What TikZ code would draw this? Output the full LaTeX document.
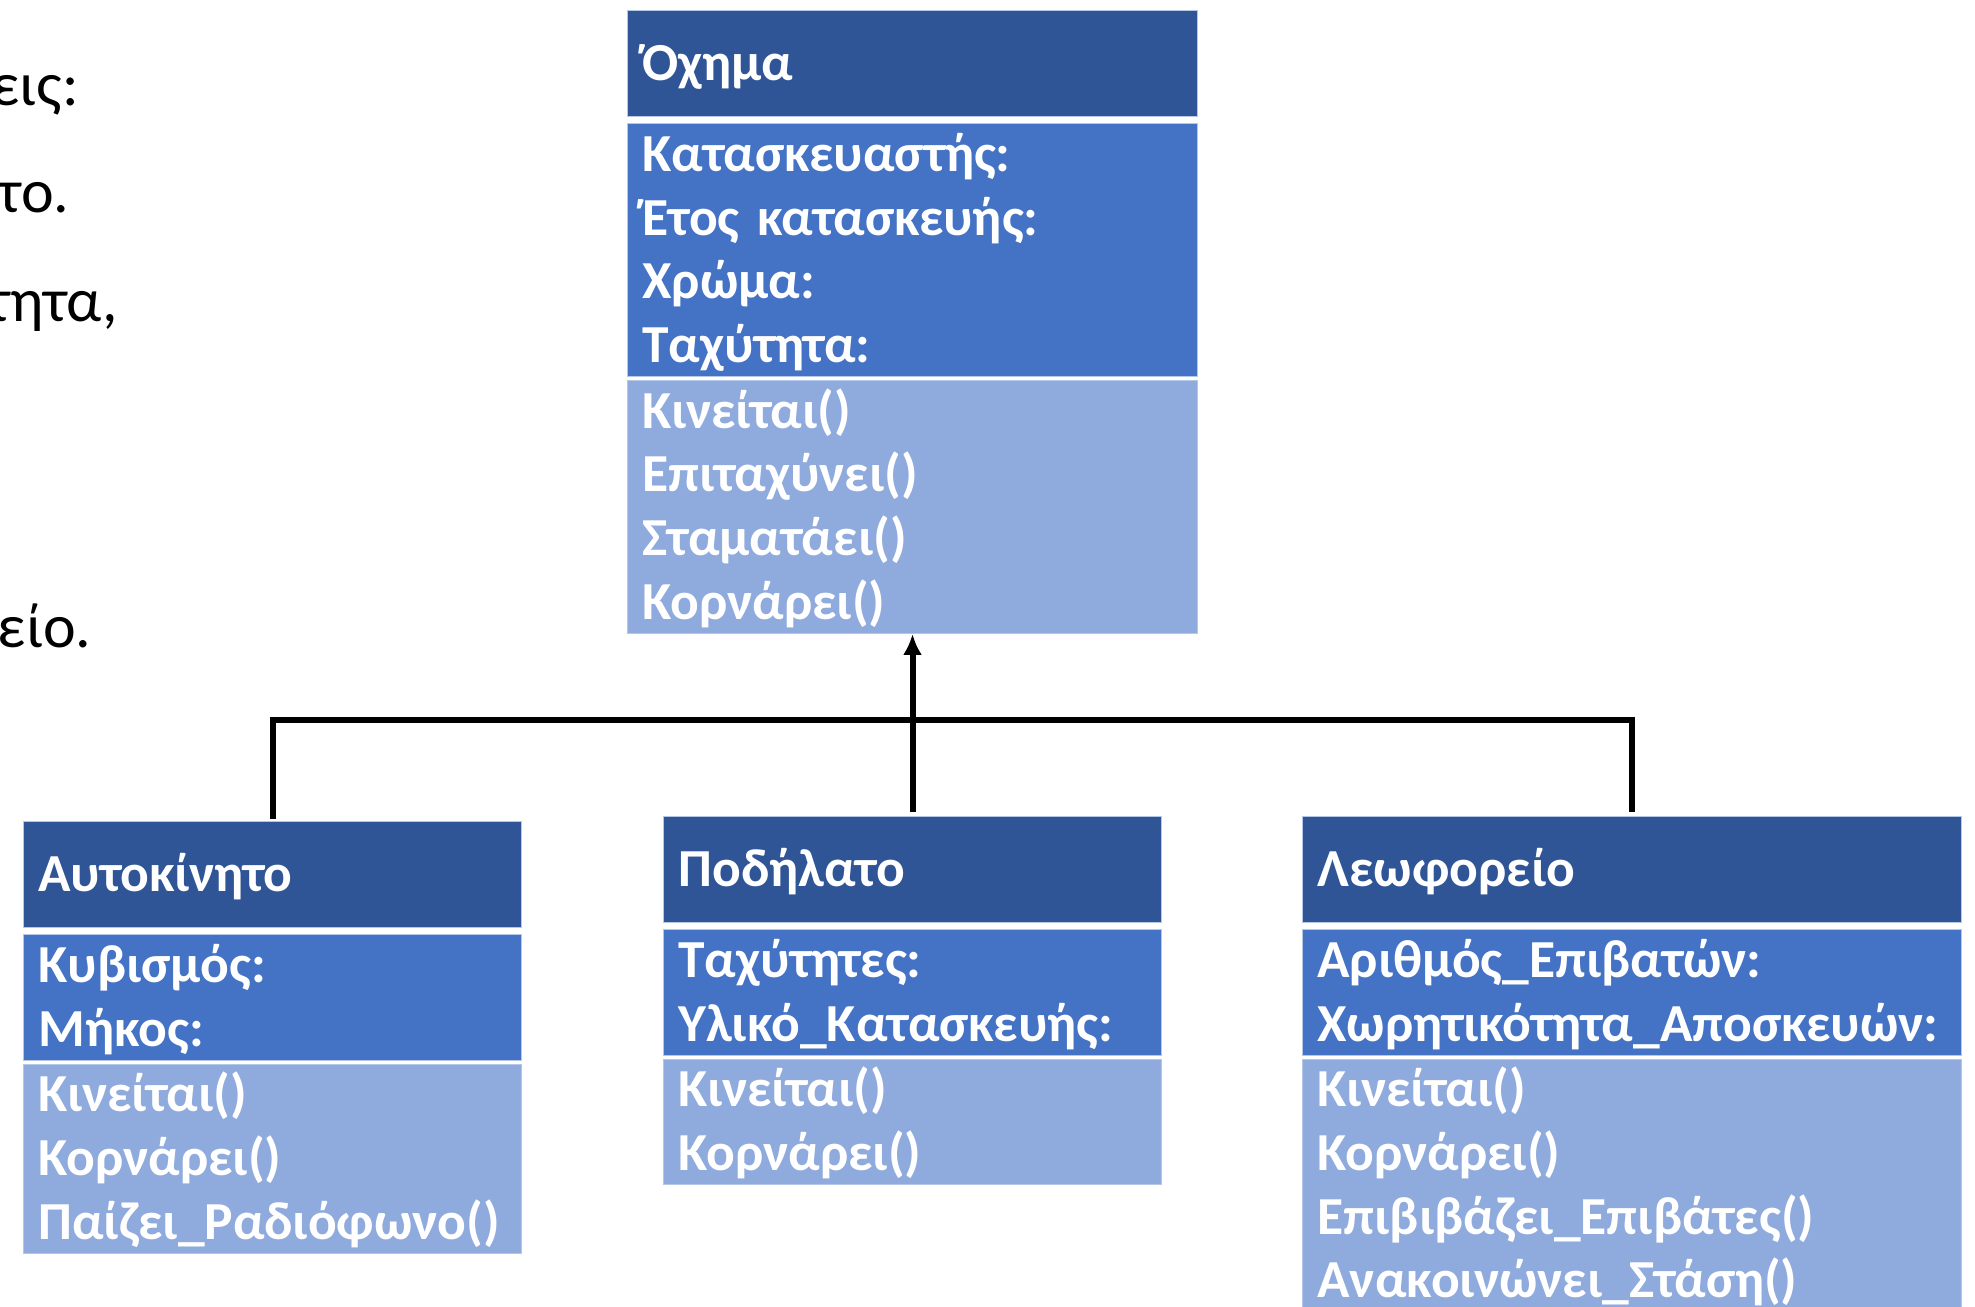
\documentclass[tikz,border=0pt]{standalone}
\usepackage{fontspec}
\setmainfont{Carlito}
\usetikzlibrary{positioning,arrows.meta}
\definecolor{headblue}{HTML}{2F5597}
\definecolor{attrblue}{HTML}{4472C4}
\definecolor{methblue}{HTML}{8FAADC}
\definecolor{edgeblue}{HTML}{B4C7E7}
\newcommand{\cstrut}{\vrule height 23.9pt depth 7pt width 0pt}
\tikzset{
  classpart/.style={rectangle, draw=edgeblue, line width=0.5pt, text=white, align=left,
    inner xsep=7.5pt, inner ysep=0pt, font=\bfseries\fontsize{26.75pt}{31.85pt}\selectfont,
    execute at begin node=\cstrut, execute at end node=\cstrut},
  classhead/.style={classpart, fill=headblue, minimum height=53pt},
  classattr/.style={classpart, fill=attrblue},
  classmeth/.style={classpart, fill=methblue},
  link/.style={line width=3pt},
  note/.style={anchor=base east, inner sep=0pt, font=\fontsize{31pt}{37pt}\selectfont}
}
\begin{document}
\begin{tikzpicture}[x=0.5pt, y=-0.5pt]
\useasboundingbox (0,0) rectangle (1975,1306);
% text cut at the left edge
\node[note] (n1) at (79,105) {εις:};
\node[note] (n2) at (70,212) {το.};
\node[note] (n3) at (118,321) {τητα,};
\node[note] (n4) at (92,647) {είο.};
% base class
\node[classhead, anchor=north west, text width=270pt] (vhead) at (627,10) {Όχημα};
\node[classattr, text width=270pt, minimum height=126pt, below=3pt of vhead] (vattr) {Κατασκευαστής:\\Έτος κατασκευής:\\Χρώμα:\\Ταχύτητα:};
\node[classmeth, text width=270pt, minimum height=126.5pt, below=1.5pt of vattr] (vmeth) {Κινείται()\\Επιταχύνει()\\Σταματάει()\\Κορνάρει()};
% subclasses
\node[classhead, anchor=north west, text width=234pt] (chead) at (23,821) {Αυτοκίνητο};
\node[classattr, text width=234pt, below=3pt of chead] (cattr) {Κυβισμός:\\Μήκος:};
\node[classmeth, text width=234pt, below=1.5pt of cattr] (cmeth) {Κινείται()\\Κορνάρει()\\Παίζει\_Ραδιόφωνο()};
\node[classhead, anchor=north west, text width=234pt] (phead) at (663,816) {Ποδήλατο};
\node[classattr, text width=234pt, below=3pt of phead] (pattr) {Ταχύτητες:\\Υλικό\_Κατασκευής:};
\node[classmeth, text width=234pt, below=1.5pt of pattr] (pmeth) {Κινείται()\\Κορνάρει()};
\node[classhead, anchor=north west, text width=314.5pt] (bhead) at (1302,816) {Λεωφορείο};
\node[classattr, text width=314.5pt, below=3pt of bhead] (battr) {Αριθμός\_Επιβατών:\\Χωρητικότητα\_Αποσκευών:};
\node[classmeth, text width=314.5pt, below=1.5pt of battr] (bmeth) {Κινείται()\\Κορνάρει()\\Επιβιβάζει\_Επιβάτες()\\Ανακοινώνει\_Στάση()};
% inheritance
\coordinate (bar) at (912,720);
\draw[link] ([yshift=1pt]chead.north) -- (chead.north |- bar) -- (bhead.north |- bar) -- ([yshift=2pt]bhead.north);
\draw[link] ([yshift=2pt]phead.north) -- (phead.north |- bar);
\draw[link, -{Latex[length=10.5pt, width=9.5pt]}] (phead.north |- bar) -- (vmeth.south);
\end{tikzpicture}
\end{document}
